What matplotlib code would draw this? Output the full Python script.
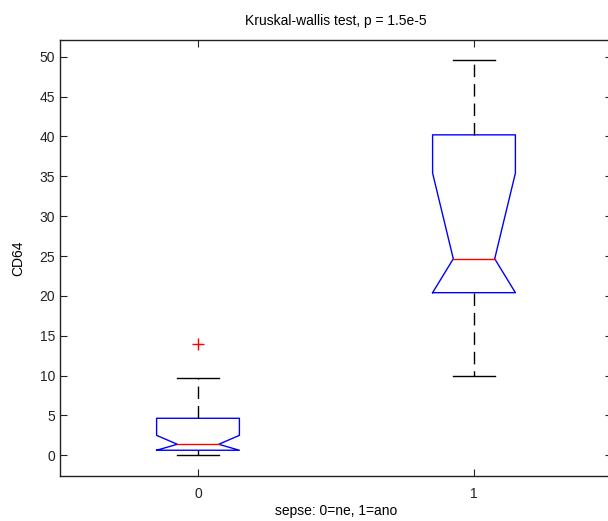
import numpy as np
import matplotlib
matplotlib.use('Agg')
import matplotlib.pyplot as plt

plt.rcParams['font.family'] = ['Liberation Sans', 'DejaVu Sans']

# values
groups = ['0', '1']
q1 = [0.63, 20.4]
med = [1.38, 24.65]
q3 = [4.64, 40.2]
notch_lo = [0.26, 13.9]
notch_hi = [2.5, 35.4]
whisk_lo = [0.0, 10.0]
whisk_hi = [9.7, 49.6]
outliers = [[14.0], []]

fig = plt.figure(figsize=(6.08, 5.21), dpi=100)
# right spine sits just past the picture edge, as in the reference
ax = fig.add_axes([60/608, 1-476/521, 552/608, 436/521])

hw = 0.15   # box half width
nw = 0.075  # notch / cap half width
for i in range(len(groups)):
    x = i + 1
    lo = max(notch_lo[i], q1[i])
    hi = min(notch_hi[i], q3[i])
    bx = [x-hw, x-hw, x-nw, x-hw, x-hw, x+hw, x+hw, x+nw, x+hw, x+hw, x-hw]
    by = [q1[i], lo, med[i], hi, q3[i], q3[i], hi, med[i], lo, q1[i], q1[i]]
    ax.plot(bx, by, color='blue', lw=1)
    ax.plot([x-nw, x+nw], [med[i], med[i]], color='red', lw=1)
    ax.plot([x, x], [q3[i], whisk_hi[i]], color='black', lw=1, ls=(0, (9, 5)))
    ax.plot([x, x], [q1[i], whisk_lo[i]], color='black', lw=1, ls=(0, (9, 5)))
    for w in (whisk_lo[i], whisk_hi[i]):
        ax.plot([x-nw, x+nw], [w, w], color='black', lw=1)
    if outliers[i]:
        ax.plot([x]*len(outliers[i]), outliers[i], '+', color='red', ms=8, mew=1)

ax.set_xlim(0.5, 2.5)
ax.set_ylim(-2.6, 52.1)
ax.set_xticks([1, 2])
ax.set_xticklabels(groups)
ax.set_yticks(np.arange(0, 51, 5))
ax.tick_params(direction='in', top=True, right=True, length=5, labelsize=10, colors='#222222')
ax.tick_params(axis='x', pad=8)
for s in ax.spines.values():
    s.set_color('#222222')
    s.set_linewidth(1)

ax.set_title('Kruskal-wallis test, p = 1.5e-5', fontsize=10, pad=11)
ax.set_xlabel('sepse: 0=ne, 1=ano', fontsize=10, labelpad=2)
ax.set_ylabel('CD64', fontsize=10, labelpad=10)

fig.savefig('out.png', dpi=100)
